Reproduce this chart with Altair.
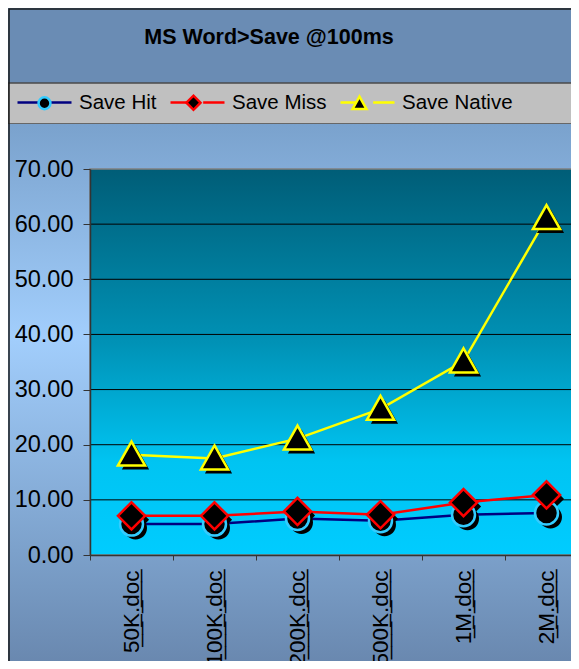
import altair as alt
import pandas as pd

# ---------------- data ----------------
docs = ["50K.doc", "100K.doc", "200K.doc", "500K.doc", "1M.doc", "2M.doc"]
series = ["Save Hit", "Save Miss", "Save Native"]
save_hit = [5.6, 5.6, 6.6, 6.2, 7.3, 7.6]
save_miss = [7.1, 7.1, 7.9, 7.3, 9.5, 10.9]
save_native = [18.2, 17.5, 21.1, 26.5, 35.1, 61.1]
y_ticks = [0, 10, 20, 30, 40, 50, 60, 70]
grid_values = [10, 20, 30, 40, 50, 60]
title_text = "MS Word>Save @100ms"

# ---------------- styles ----------------
line_colors = ["#000080", "#FF0000", "#FFFF00"]
marker_strokes = ["#33CCFF", "#FF0000", "#FFFF00"]
marker_paths = [
    "M0.22,0A0.22,0.22 0 1,1 -0.22,0A0.22,0.22 0 1,1 0.22,0Z",
    "M-0.26,0L0,-0.26L0.26,0L0,0.26Z",
    "M0,-0.25L0.26,0.21L-0.26,0.21Z",
]
FONT = "Liberation Sans"
W, H = 481, 386
BOTTOM = 106

rows = []
for name, vals in zip(series, [save_hit, save_miss, save_native]):
    for i, (d, v) in enumerate(zip(docs, vals)):
        rows.append({"doc": d, "series": name, "value": v, "idx": i})
df = pd.DataFrame(rows)
one = pd.DataFrame({"k": [0]})
grid_df = pd.DataFrame({"value": grid_values})

yscale = alt.Scale(domain=[0, 70], nice=False, zero=True)
xscale = alt.Scale(type="band", domain=docs, range=[0, 498], paddingInner=0, paddingOuter=0)

x_axis = alt.Axis(
    title=None, labelAngle=270, labelFont=FONT, labelFontSize=22.5,
    labelColor="black", labelPadding=10, tickSize=5, tickColor="#333333",
    domainColor="#333333", domainWidth=1.5, tickBand="extent", grid=False, zindex=1,
    labelExpr="replace(datum.label, regexp('(.)', 'g'), '$1\u0332')",
)
y_axis = alt.Axis(
    title=None, values=y_ticks, format=".2f", labelFont=FONT, labelFontSize=23.5,
    labelColor="black", labelPadding=10, tickSize=7, tickColor="#333333",
    domainColor="#333333", domainWidth=1.5, grid=False, zindex=1,
)
x_enc = alt.X("doc:N", scale=xscale, sort=docs, axis=x_axis)
y_enc = alt.Y("value:Q", scale=yscale, axis=y_axis)

# ---------------- decoration ----------------
title_band = alt.Chart(one).mark_rect(fill="#6A8CB4").encode(
    x=alt.value(-82), x2=alt.value(W + 20), y=alt.value(-161), y2=alt.value(-86)
)
legend_band = alt.Chart(one).mark_rect(fill="#C0C0C0", stroke="#4A4A4A", strokeWidth=1.5).encode(
    x=alt.value(-82), x2=alt.value(W + 20), y=alt.value(-86), y2=alt.value(-45)
)
area_grad = alt.Gradient(
    gradient="linear", x1=0, x2=0, y1=0, y2=1,
    stops=[
        alt.GradientStop(color="#7AA2CD", offset=0),
        alt.GradientStop(color="#A2CEFC", offset=0.39),
        alt.GradientStop(color="#7CA1CB", offset=0.78),
        alt.GradientStop(color="#6886AD", offset=1),
    ],
)
chart_area = alt.Chart(one).mark_rect(fill=area_grad).encode(
    x=alt.value(-82), x2=alt.value(W + 20), y=alt.value(-45), y2=alt.value(H + BOTTOM + 10)
)
plot_grad = alt.Gradient(
    gradient="linear", x1=0, x2=0, y1=0, y2=1,
    stops=[
        alt.GradientStop(color="#005D77", offset=0),
        alt.GradientStop(color="#0092B6", offset=0.45),
        alt.GradientStop(color="#00C4F2", offset=0.76),
        alt.GradientStop(color="#00CCFF", offset=1),
    ],
)
plot_bg = alt.Chart(one).mark_rect(fill=plot_grad, stroke="#808080", strokeWidth=1.5).encode(
    x=alt.value(0), x2=alt.value(W + 20), y=alt.value(0), y2=alt.value(H)
)
grid = alt.Chart(grid_df).mark_rule(color="black", strokeWidth=1).encode(
    y=y_enc, x=alt.value(0), x2=alt.value(W + 20)
)
title = alt.Chart(one).mark_text(
    text=title_text, font=FONT, fontSize=21.5, fontWeight="bold", color="black",
    align="center", baseline="middle",
).encode(x=alt.value(179), y=alt.value(-131))
frame = alt.Chart(one).mark_rect(fill=None, stroke="#1A1A1A", strokeWidth=1.5).encode(
    x=alt.value(-81), x2=alt.value(W + 30), y=alt.value(-160), y2=alt.value(H + 200)
)

# ---------------- legends ----------------
common_leg = dict(
    title=None, orient="none", legendX=-74, legendY=-95, direction="horizontal",
    symbolSize=2916, symbolStrokeWidth=2.5, labelFont=FONT, labelFontSize=20.5,
    labelColor="black", labelOffset=6, columnPadding=8, padding=0,
)
leg_lines = alt.Legend(symbolType="M-1,0H-0.21M0.21,0H1", **common_leg)
leg_marks = alt.Legend(symbolFillColor="black", labelOpacity=0, **common_leg)

# ---------------- data marks ----------------
lines = alt.Chart(df).mark_line(strokeWidth=2.5).encode(
    x=x_enc, y=y_enc,
    stroke=alt.Stroke("series:N", scale=alt.Scale(domain=series, range=line_colors), legend=leg_lines),
    order=alt.Order("idx:Q"),
)
shadows = alt.Chart(df).mark_point(
    filled=True, fill="black", opacity=1, fillOpacity=1, strokeWidth=0, size=10920,
    xOffset=4, yOffset=4,
).encode(
    x=x_enc, y=y_enc,
    shape=alt.Shape("series:N", scale=alt.Scale(domain=series, range=marker_paths), legend=None),
)
markers = alt.Chart(df).mark_point(
    filled=True, fill="black", opacity=1, fillOpacity=1, strokeWidth=2.5, size=10920,
).encode(
    x=x_enc, y=y_enc,
    shape=alt.Shape("series:N", scale=alt.Scale(domain=series, range=marker_paths), legend=leg_marks),
    stroke=alt.Stroke("series:N", scale=alt.Scale(domain=series, range=marker_strokes), legend=leg_marks),
)

chart = alt.layer(
    title_band, legend_band, chart_area, plot_bg, grid, lines, shadows, markers, title, frame
).resolve_scale(
    stroke="independent", shape="independent"
).properties(
    width=W, height=H,
    autosize=alt.AutoSizeParams(type="none"),
    padding={"left": 82, "top": 161, "right": 0, "bottom": BOTTOM},
    background="#6A8CB4",
).configure_view(stroke=None)

chart.save("out.html", embed_options={"renderer": "svg", "actions": False})
